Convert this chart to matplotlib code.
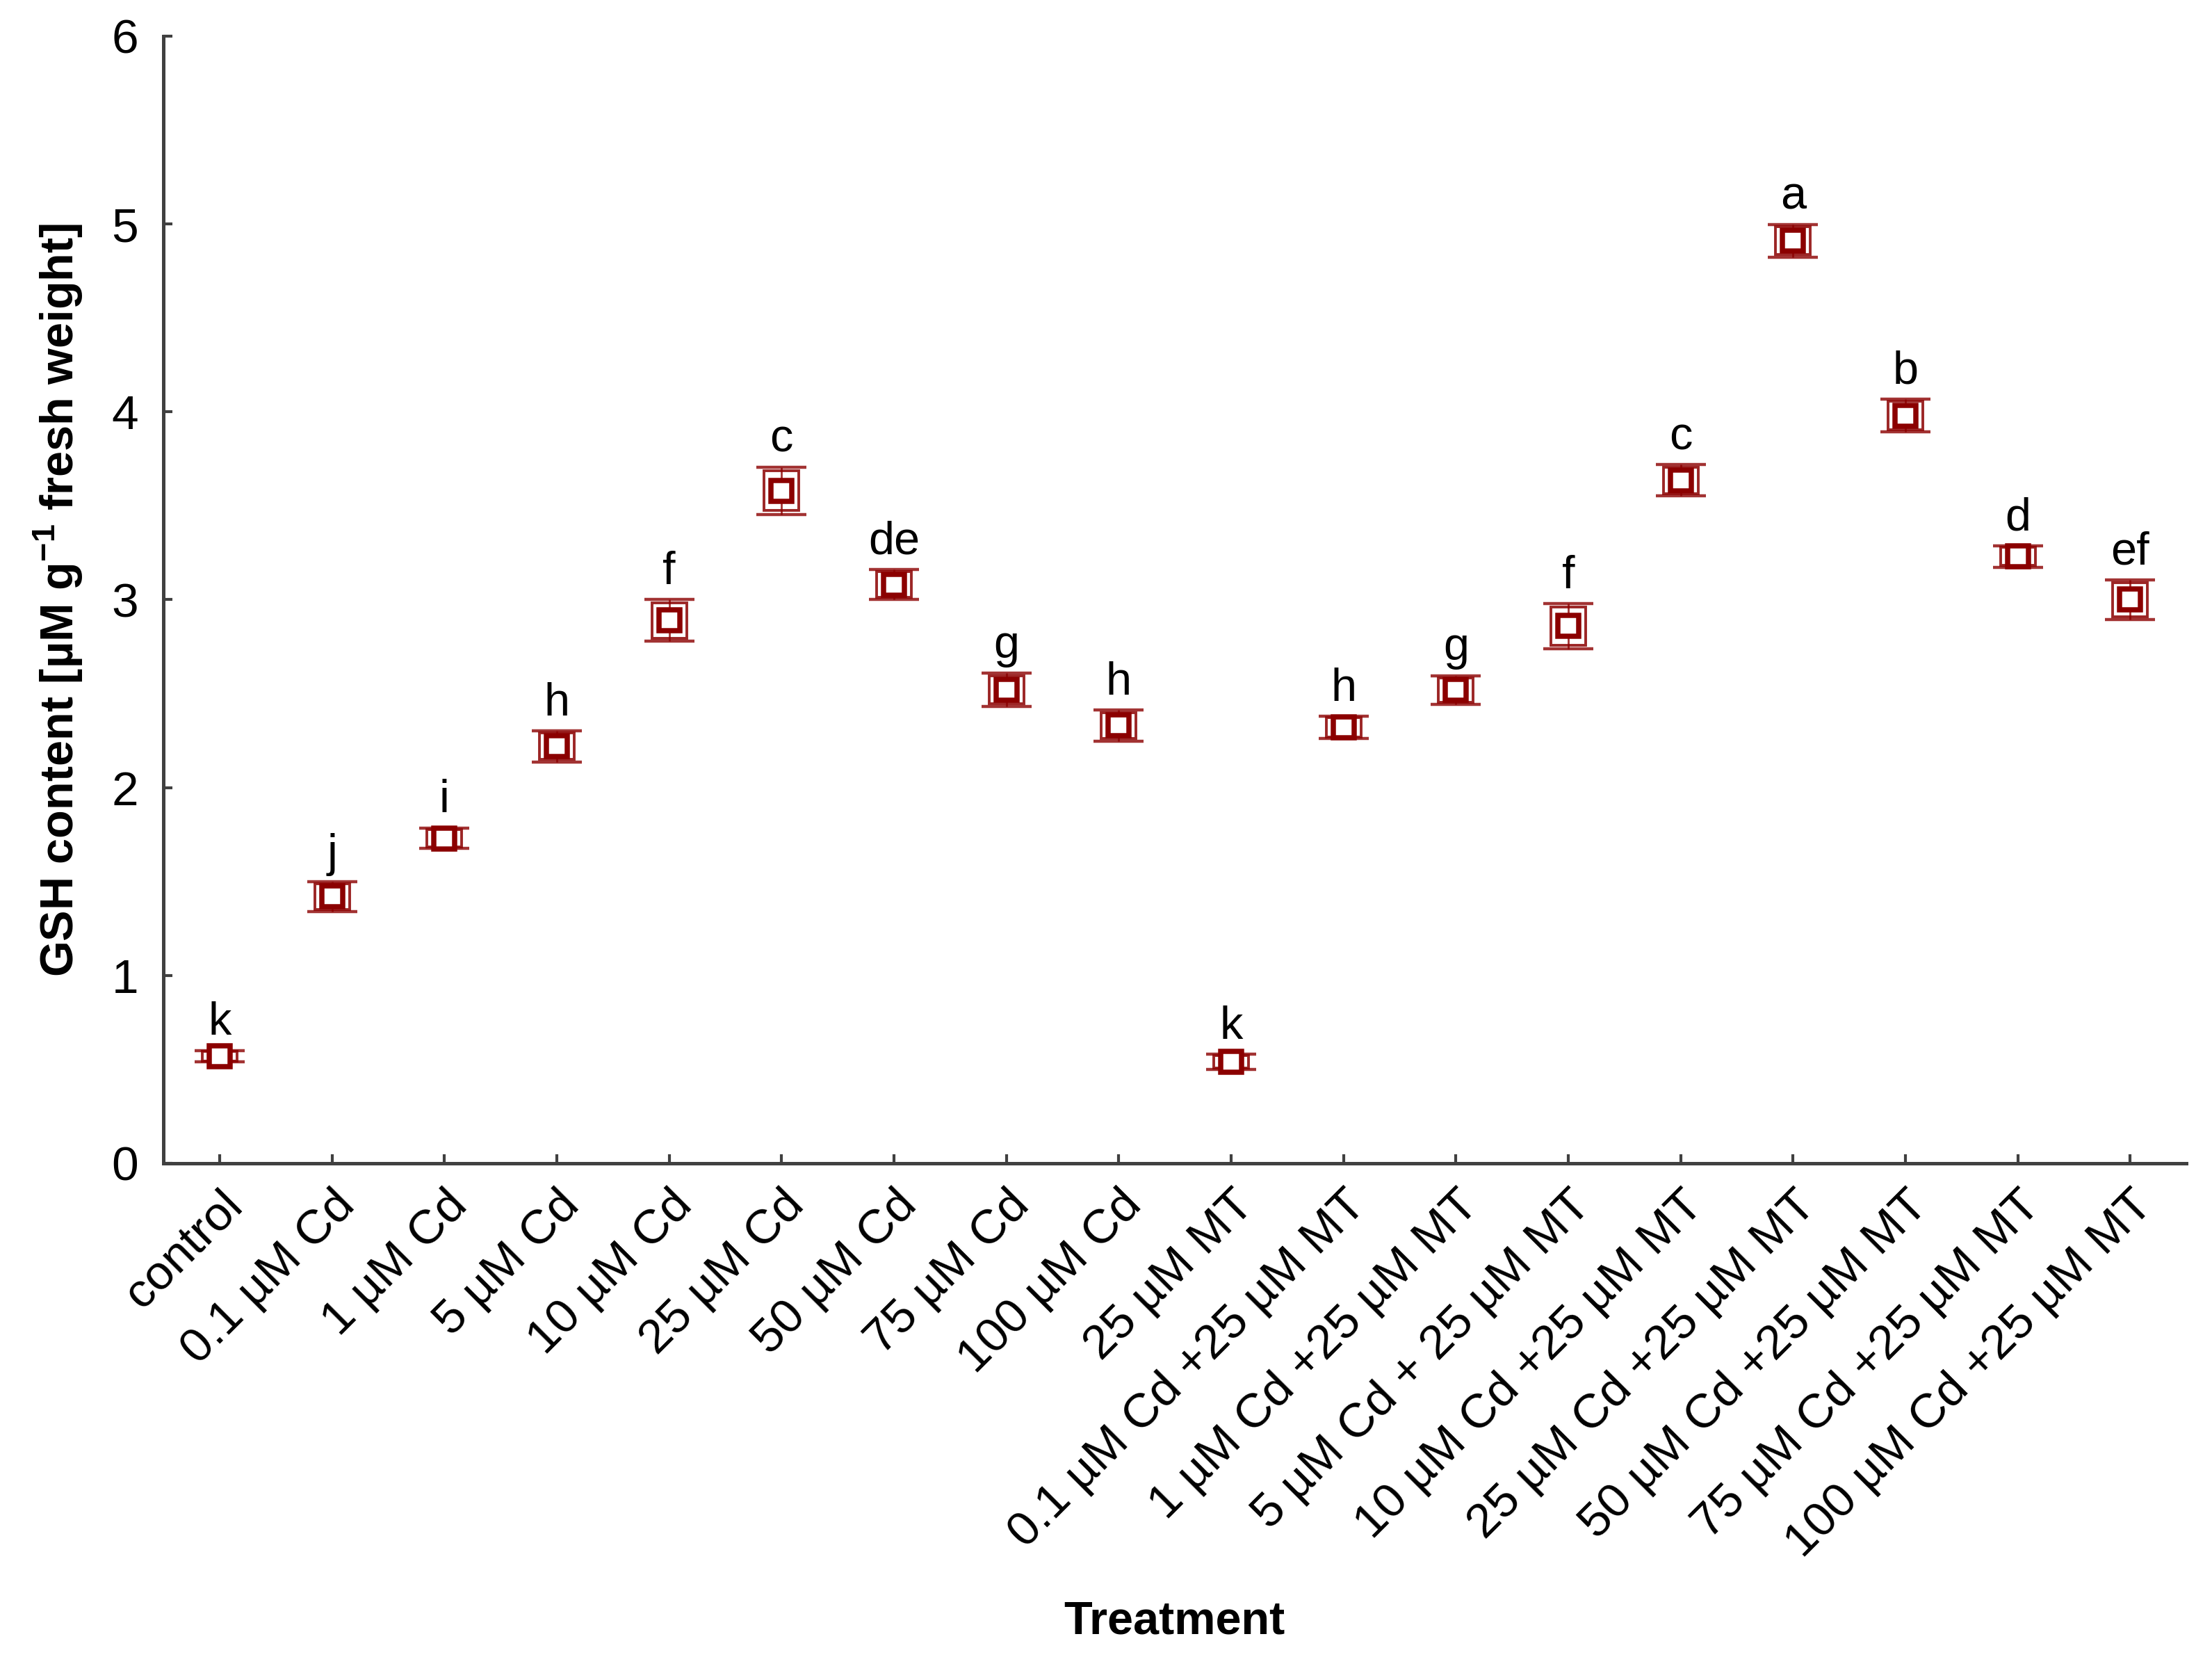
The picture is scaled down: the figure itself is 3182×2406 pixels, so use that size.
import matplotlib
matplotlib.use("Agg")
import matplotlib.pyplot as plt
import numpy as np

plt.rcParams['font.family'] = ['Liberation Sans', 'DejaVu Sans']
plt.rcParams['mathtext.fontset'] = 'custom'
plt.rcParams['mathtext.rm'] = 'Liberation Sans'
plt.rcParams['mathtext.bf'] = 'Liberation Sans:bold'

treatments = ["control", "0.1 µM Cd", "1 µM Cd", "5 µM Cd", "10 µM Cd", "25 µM Cd",
              "50 µM Cd", "75 µM Cd", "100 µM Cd", "25 µM MT",
              "0.1 µM Cd +25 µM MT", "1 µM Cd +25 µM MT", "5 µM Cd + 25 µM MT",
              "10 µM Cd +25 µM MT", "25 µM Cd +25 µM MT", "50 µM Cd +25 µM MT",
              "75 µM Cd +25 µM MT", "100 µM Cd +25 µM MT"]
gsh_mean = [0.57, 1.42, 1.73, 2.22, 2.89, 3.58, 3.08, 2.52, 2.33, 0.54,
            2.32, 2.52, 2.86, 3.635, 4.91, 3.98, 3.23, 3.00]
gsh_whisker = [0.031, 0.079, 0.055, 0.083, 0.111, 0.125, 0.080, 0.088, 0.082, 0.040,
               0.060, 0.076, 0.120, 0.083, 0.087, 0.088, 0.057, 0.106]
gsh_box = [0.027, 0.068, 0.047, 0.071, 0.094, 0.106, 0.068, 0.075, 0.070, 0.034,
           0.051, 0.065, 0.102, 0.071, 0.074, 0.075, 0.048, 0.090]
letters = ["k", "j", "i", "h", "f", "c", "de", "g", "h", "k",
           "h", "g", "f", "c", "a", "b", "d", "ef"]

red = '#8b0000'

fig = plt.figure(figsize=(15.91, 12.03), dpi=200)
ax = fig.add_axes([0.0739, 0.3047, 0.9145, 0.6737])

x = np.arange(len(treatments))
mean = np.array(gsh_mean)
box = np.array(gsh_box)

# box (mean ± box)
ax.bar(x, 2 * box, bottom=mean - box, width=0.31, fill=False,
       edgecolor=red, linewidth=1.4, alpha=0.85, zorder=2)
# whiskers
ax.errorbar(x, mean, yerr=gsh_whisker, fmt='none', ecolor=red, elinewidth=1.0,
            capsize=13, capthick=1.6, alpha=0.8, zorder=2)
# mean markers
ax.plot(x, mean, linestyle='none', marker='s', markersize=11,
        markerfacecolor='white', markeredgecolor=red, markeredgewidth=2.7, zorder=3)

# significance letters
for xi, m, w, lab in zip(x, gsh_mean, gsh_whisker, letters):
    ax.annotate(lab, xy=(xi, m + w), xytext=(0, 8), textcoords='offset points',
                ha='center', va='baseline', fontsize=24, color='black')

ax.set_xlim(-0.5, len(treatments) - 0.5)
ax.set_ylim(0, 6)
ax.set_yticks(range(0, 7))
ax.set_xticks(x)
ax.set_xticklabels(treatments, rotation=45, ha='right', va='top',
                   rotation_mode='anchor', fontsize=25)
ax.tick_params(axis='y', direction='in', length=4.7, width=1.5, color='#404040',
               labelsize=25, pad=13)
ax.tick_params(axis='x', direction='in', length=4.7, width=1.5, color='#404040',
               pad=10)

for s in ['top', 'right']:
    ax.spines[s].set_visible(False)
for s in ['left', 'bottom']:
    ax.spines[s].set_linewidth(1.8)
    ax.spines[s].set_color('#404040')

ax.set_ylabel(r'GSH content [µM g$^{\mathbf{-1}}$ fresh weight]', fontsize=24,
              fontweight='bold')
ax.yaxis.set_label_coords(-0.039, 0.5)
fig.text(0.531, 0.0305, 'Treatment', ha='center', va='center', fontsize=24,
         fontweight='bold')

fig.savefig('out.png', dpi=200)
